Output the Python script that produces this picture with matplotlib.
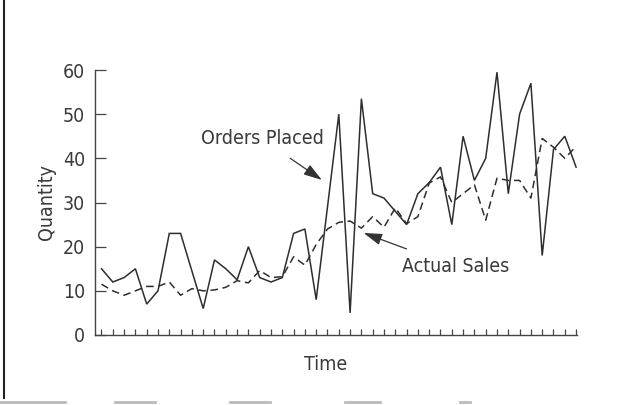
import matplotlib
matplotlib.use("Agg")
import matplotlib.pyplot as plt
from matplotlib.lines import Line2D
from matplotlib import font_manager as fm

# ---- data ----
periods = list(range(43))
orders_placed = [15, 12, 13, 15, 7, 10, 23, 23, 14.5, 6, 17, 15, 12.5, 20, 13, 12, 13,
                 23, 24, 8, 29, 50, 5, 53.5, 32, 31, 28, 25, 32, 34.5, 38, 25, 45, 35,
                 40, 59.5, 32, 50, 57, 18, 42, 45, 38]
actual_sales = [11.5, 10, 9, 10, 11, 11, 12, 9, 10.5, 10, 10.2, 10.8, 12.3, 11.8, 14.6,
                13, 13.2, 17.7, 15.8, 20.5, 24, 25.5, 25.8, 24.2, 26.8, 24.4, 28.8, 25.2,
                26.8, 34.4, 35.8, 30, 32, 34, 26, 35.5, 35, 35, 31, 44.5, 42.5, 40, 42.7]
y_ticks = [0, 10, 20, 30, 40, 50, 60]

# pick a condensed face if one exists, else Roboto
cond = None
for f in fm.fontManager.ttflist:
    n = f.fname.lower()
    if ('narrow' in n or 'condensed' in n) and 'bold' not in n and 'oblique' not in n \
            and 'italic' not in n and 'light' not in n:
        cond = f.fname
        break
if cond:
    def FP(size):
        return fm.FontProperties(fname=cond, size=size)
else:
    def FP(size):
        return fm.FontProperties(family=['Roboto', 'DejaVu Sans'], size=size)

TXT = '#3a3a3a'
LINE = '#2e2e2e'
FS = 14

W, H = 621, 405
fig = plt.figure(figsize=(W / 100, H / 100), dpi=100)
fig.patch.set_facecolor('white')

ax = fig.add_axes([95 / W, (H - 335) / H, (577 - 95) / W, (335 - 70) / H])
ax.set_facecolor('white')

ax.plot(periods, orders_placed, color=LINE, lw=1.1, solid_joinstyle='miter')
ax.plot(periods, actual_sales, color=LINE, lw=1.1, dashes=(5, 3))

ax.set_xlim(-0.575, 42.08)
ax.set_ylim(0, 60)
ax.set_xticks(periods)
ax.set_xticklabels([])
ax.set_yticks(y_ticks)
ax.set_yticklabels([str(t) for t in y_ticks], fontproperties=FP(FS), color=TXT)

for s in ['top', 'right']:
    ax.spines[s].set_visible(False)
for s in ['left', 'bottom']:
    ax.spines[s].set_color('#444444')
    ax.spines[s].set_linewidth(1.0)

ax.tick_params(axis='x', direction='in', length=4, width=0.9, color='#444444')
ax.tick_params(axis='y', direction='in', length=8, width=0.9, color='#444444', pad=7)

ax.set_ylabel('Quantity', fontproperties=FP(FS), color=TXT)
ax.yaxis.set_label_coords(-0.08, 0.5)
ax.set_xlabel('Time', fontproperties=FP(FS), color=TXT)
ax.xaxis.set_label_coords(0.479, -0.075)

# annotations
ax.annotate('Orders Placed', xy=(19.5, 35.1), xytext=(14.2, 44.4),
            ha='center', va='center', fontproperties=FP(FS), color=TXT,
            arrowprops=dict(arrowstyle='-|>,head_length=0.8,head_width=0.25',
                            color='#333333', lw=0.9, shrinkA=9, shrinkB=0))
ax.annotate('Actual Sales', xy=(23.2, 23.1), xytext=(31.3, 15.4),
            ha='center', va='center', fontproperties=FP(FS), color=TXT,
            arrowprops=dict(arrowstyle='-|>,head_length=0.8,head_width=0.25',
                            color='#333333', lw=0.9, shrinkA=12, shrinkB=0))

# scan border
fig.add_artist(Line2D([4 / W, 4 / W], [1, (H - 398) / H], transform=fig.transFigure,
                      color='#222222', lw=1.5))
for x0, x1 in [(0, 65), (115, 155), (230, 270), (345, 380), (460, 470)]:
    fig.add_artist(Line2D([x0 / W, x1 / W], [(H - 402) / H] * 2, transform=fig.transFigure,
                          color='#bbbbbb', lw=2))

fig.savefig('out.png', dpi=100, facecolor='white')
